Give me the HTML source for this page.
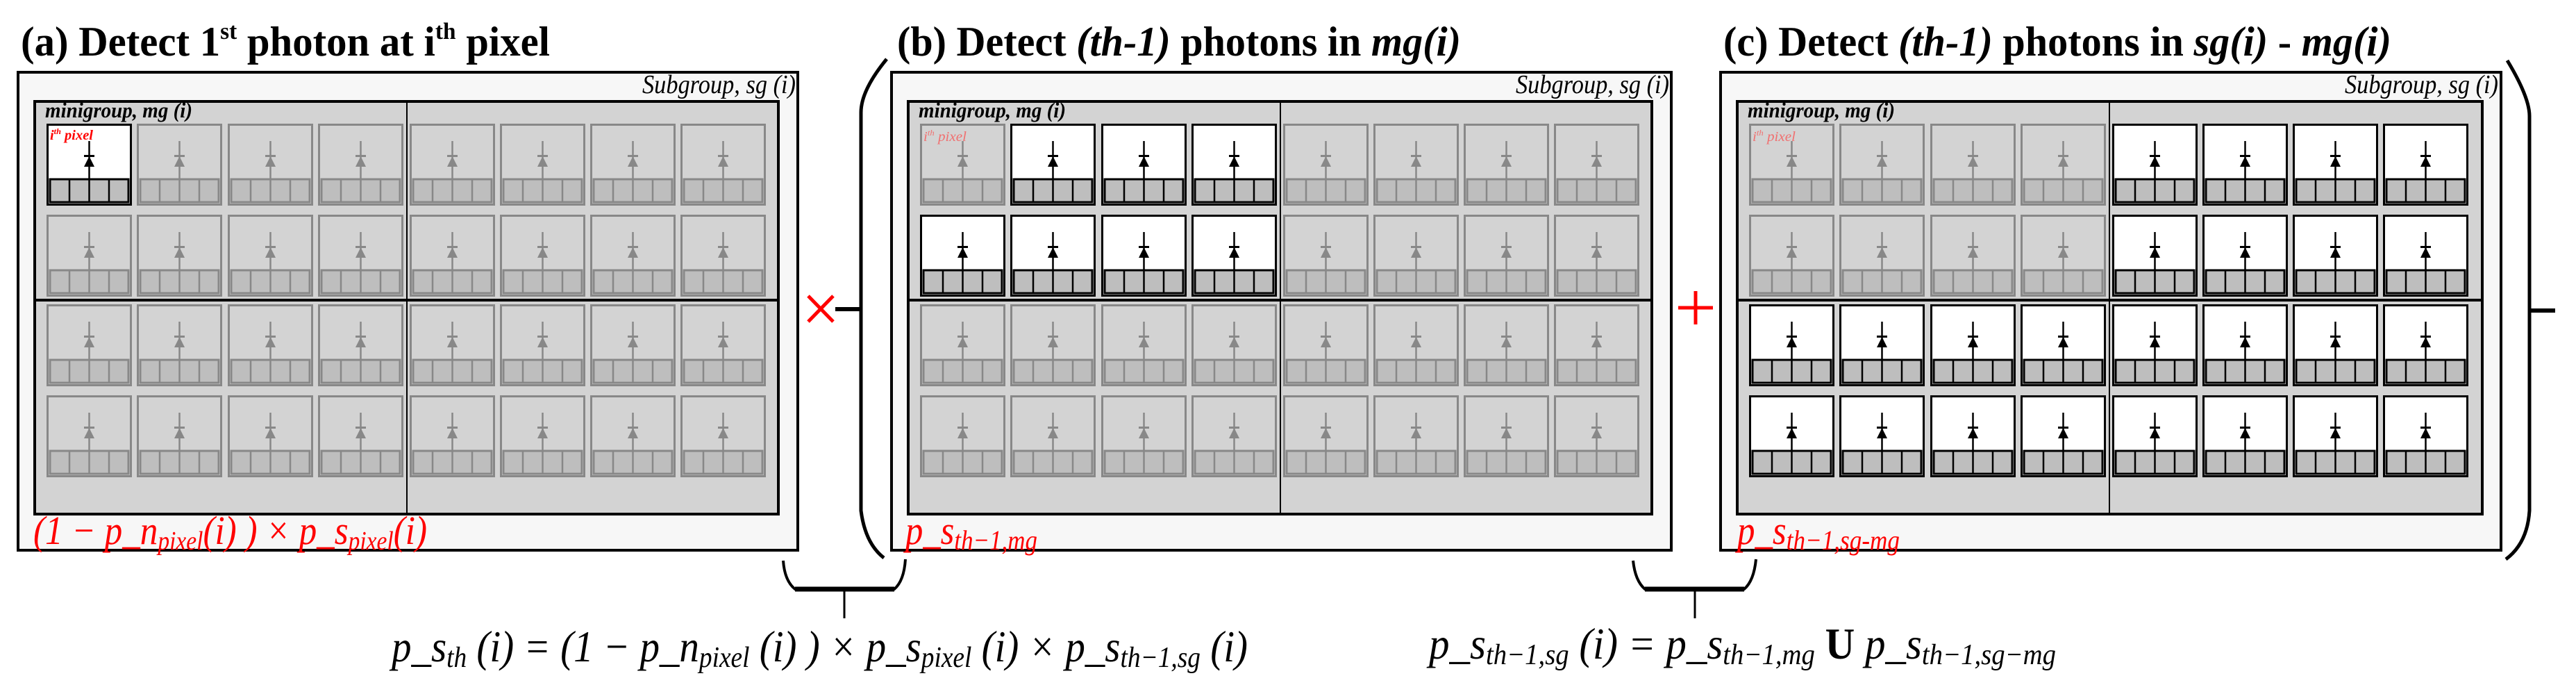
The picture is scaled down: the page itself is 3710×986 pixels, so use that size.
<!DOCTYPE html>
<html><head><meta charset="utf-8"><style>
html,body{margin:0;padding:0;background:#fff;}
svg{display:block;}
text{font-family:"Liberation Serif","Times New Roman",serif;}
</style></head><body>
<svg width="3710" height="986" viewBox="0 0 3710 986" xmlns="http://www.w3.org/2000/svg">
<defs>
<g id="off">
<rect x="1.5" y="1.5" width="120" height="115" fill="#d3d3d3" stroke="#888" stroke-width="3"/>
<line x1="61.5" y1="25" x2="61.5" y2="79" stroke="#888" stroke-width="2.5"/>
<rect x="54" y="45" width="15" height="3" fill="#888"/>
<polygon points="54,62 69,62 61.5,47" fill="#888"/>
<rect x="5" y="80" width="113" height="33" fill="#bebebe" stroke="#888" stroke-width="3"/>
<line x1="33" y1="80" x2="33" y2="113" stroke="#888" stroke-width="2.5"/>
<line x1="61.5" y1="80" x2="61.5" y2="113" stroke="#888" stroke-width="2.5"/>
<line x1="90" y1="80" x2="90" y2="113" stroke="#888" stroke-width="2.5"/>
</g>
<g id="on">
<rect x="1.5" y="1.5" width="120" height="115" fill="#fff" stroke="#000" stroke-width="3"/>
<line x1="61.5" y1="25" x2="61.5" y2="79" stroke="#000" stroke-width="2.5"/>
<rect x="54" y="45" width="15" height="3" fill="#000"/>
<polygon points="54,62 69,62 61.5,47" fill="#000"/>
<rect x="5" y="80" width="113" height="33" fill="#bebebe" stroke="#000" stroke-width="3"/>
<line x1="33" y1="80" x2="33" y2="113" stroke="#000" stroke-width="2.5"/>
<line x1="61.5" y1="80" x2="61.5" y2="113" stroke="#000" stroke-width="2.5"/>
<line x1="90" y1="80" x2="90" y2="113" stroke="#000" stroke-width="2.5"/>
</g>
<g id="rowoff">
<use href="#off" x="17"/><use href="#off" x="147"/><use href="#off" x="278"/><use href="#off" x="408"/>
<use href="#off" x="540"/><use href="#off" x="670"/><use href="#off" x="800"/><use href="#off" x="930"/>
</g>
<g id="rowon">
<use href="#on" x="17"/><use href="#on" x="147"/><use href="#on" x="278"/><use href="#on" x="408"/>
<use href="#on" x="540"/><use href="#on" x="670"/><use href="#on" x="800"/><use href="#on" x="930"/>
</g>
</defs>

<!-- Titles -->
<text x="30" y="80" font-size="60" font-weight="bold" textLength="762" lengthAdjust="spacingAndGlyphs">(a) Detect 1<tspan font-size="34" dy="-24">st</tspan><tspan dy="24"> photon at i</tspan><tspan font-size="34" dy="-24">th</tspan><tspan dy="24"> pixel</tspan></text>
<text x="1292" y="80" font-size="60" font-weight="bold" textLength="812" lengthAdjust="spacingAndGlyphs">(b) Detect <tspan font-style="italic">(th-1)</tspan> photons in <tspan font-style="italic">mg(i)</tspan></text>
<text x="2482" y="80" font-size="60" font-weight="bold" textLength="962" lengthAdjust="spacingAndGlyphs">(c) Detect <tspan font-style="italic">(th-1)</tspan> photons in <tspan font-style="italic">sg(i)</tspan> - <tspan font-style="italic">mg(i)</tspan></text>

<!-- Panel A -->
<rect x="26" y="104" width="1123" height="688" fill="#f7f7f7" stroke="#000" stroke-width="4"/>
<text x="1146" y="134" font-size="38" font-style="italic" text-anchor="end" textLength="221" lengthAdjust="spacingAndGlyphs">Subgroup, sg (i)</text>
<g transform="translate(50,0)">
<rect x="0" y="146" width="1071" height="594" fill="#d3d3d3" stroke="#000" stroke-width="4"/>
<line x1="536" y1="146" x2="536" y2="740" stroke="#000" stroke-width="2"/>
<line x1="0" y1="432" x2="1071" y2="432" stroke="#000" stroke-width="4"/>
<text x="15" y="169" font-size="31" font-weight="bold" font-style="italic" textLength="212" lengthAdjust="spacingAndGlyphs">minigroup, mg (i)</text>
<use href="#rowoff" y="178"/><use href="#rowoff" y="309"/><use href="#rowoff" y="438"/><use href="#rowoff" y="569"/>
<use href="#on" x="17" y="178"/>
<text x="22" y="201" font-size="20" font-weight="bold" font-style="italic" fill="#f00" textLength="62" lengthAdjust="spacingAndGlyphs">i<tspan font-size="12" dy="-8">th</tspan><tspan dy="8"> pixel</tspan></text>
</g>
<text x="48" y="783" font-size="58" font-style="italic" fill="#f00" textLength="567" lengthAdjust="spacingAndGlyphs">(1 − p_n<tspan font-size="38" dy="8">pixel</tspan><tspan dy="-8">(i) ) × p_s</tspan><tspan font-size="38" dy="8">pixel</tspan><tspan dy="-8">(i)</tspan></text>

<!-- Panel B -->
<rect x="1284" y="104" width="1123" height="688" fill="#f7f7f7" stroke="#000" stroke-width="4"/>
<text x="2404" y="134" font-size="38" font-style="italic" text-anchor="end" textLength="221" lengthAdjust="spacingAndGlyphs">Subgroup, sg (i)</text>
<g transform="translate(1308,0)">
<rect x="0" y="146" width="1071" height="594" fill="#d3d3d3" stroke="#000" stroke-width="4"/>
<line x1="536" y1="146" x2="536" y2="740" stroke="#000" stroke-width="2"/>
<line x1="0" y1="432" x2="1071" y2="432" stroke="#000" stroke-width="4"/>
<text x="15" y="169" font-size="31" font-weight="bold" font-style="italic" textLength="212" lengthAdjust="spacingAndGlyphs">minigroup, mg (i)</text>
<use href="#rowoff" y="178"/><use href="#rowoff" y="309"/><use href="#rowoff" y="438"/><use href="#rowoff" y="569"/>
<use href="#on" x="147" y="178"/><use href="#on" x="278" y="178"/><use href="#on" x="408" y="178"/>
<use href="#on" x="17" y="309"/><use href="#on" x="147" y="309"/><use href="#on" x="278" y="309"/><use href="#on" x="408" y="309"/>
<text x="22" y="203" font-size="20" font-style="italic" fill="#f07070" textLength="62" lengthAdjust="spacingAndGlyphs">i<tspan font-size="12" dy="-8">th</tspan><tspan dy="8"> pixel</tspan></text>
</g>
<text x="1304" y="783" font-size="58" font-style="italic" fill="#f00" textLength="190" lengthAdjust="spacingAndGlyphs">p_s<tspan font-size="40" dy="8">th−1,mg</tspan></text>

<!-- Panel C -->
<rect x="2478" y="104" width="1124" height="688" fill="#f7f7f7" stroke="#000" stroke-width="4"/>
<text x="3598" y="134" font-size="38" font-style="italic" text-anchor="end" textLength="221" lengthAdjust="spacingAndGlyphs">Subgroup, sg (i)</text>
<g transform="translate(2502,0)">
<rect x="0" y="146" width="1073" height="594" fill="#d3d3d3" stroke="#000" stroke-width="4"/>
<line x1="536" y1="146" x2="536" y2="740" stroke="#000" stroke-width="2"/>
<line x1="0" y1="432" x2="1073" y2="432" stroke="#000" stroke-width="4"/>
<text x="15" y="169" font-size="31" font-weight="bold" font-style="italic" textLength="212" lengthAdjust="spacingAndGlyphs">minigroup, mg (i)</text>
<use href="#rowoff" y="178"/><use href="#rowoff" y="309"/><use href="#rowon" y="438"/><use href="#rowon" y="569"/>
<use href="#on" x="540" y="178"/><use href="#on" x="670" y="178"/><use href="#on" x="800" y="178"/><use href="#on" x="930" y="178"/>
<use href="#on" x="540" y="309"/><use href="#on" x="670" y="309"/><use href="#on" x="800" y="309"/><use href="#on" x="930" y="309"/>
<text x="22" y="203" font-size="20" font-style="italic" fill="#f07070" textLength="62" lengthAdjust="spacingAndGlyphs">i<tspan font-size="12" dy="-8">th</tspan><tspan dy="8"> pixel</tspan></text>
</g>
<text x="2502" y="783" font-size="58" font-style="italic" fill="#f00" textLength="234" lengthAdjust="spacingAndGlyphs">p_s<tspan font-size="40" dy="8">th−1,sg-mg</tspan></text>

<!-- Operators -->
<g stroke="#f00" stroke-width="5" fill="none">
<line x1="1164" y1="426" x2="1200" y2="463"/><line x1="1200" y1="426" x2="1164" y2="463"/>
<line x1="2442" y1="419" x2="2442" y2="467"/><line x1="2417" y1="443" x2="2467" y2="443"/>
</g>
<line x1="1203" y1="445" x2="1240" y2="445" stroke="#000" stroke-width="6"/>
<line x1="3643" y1="447" x2="3680" y2="447" stroke="#000" stroke-width="6"/>

<!-- Big parentheses -->
<path d="M1277,85 Q1240,130 1240,162 L1240,735 Q1246,782 1273,803" fill="none" stroke="#000" stroke-width="5"/>
<path d="M3611,87 Q3643,140 3643,167 L3643,735 Q3640,782 3609,805" fill="none" stroke="#000" stroke-width="5"/>

<!-- Braces -->
<path d="M1128,807 Q1130,836 1145,848 L1288,848 Q1302,836 1304,805" fill="none" stroke="#000" stroke-width="4"/>
<line x1="1145" y1="848" x2="1288" y2="848" stroke="#000" stroke-width="7"/>
<line x1="1216" y1="848" x2="1216" y2="890" stroke="#000" stroke-width="3"/>
<path d="M2352,807 Q2355,836 2369,848 L2512,848 Q2526,836 2529,805" fill="none" stroke="#000" stroke-width="4"/>
<line x1="2369" y1="848" x2="2512" y2="848" stroke="#000" stroke-width="7"/>
<line x1="2441" y1="848" x2="2441" y2="890" stroke="#000" stroke-width="3"/>

<!-- Bottom formulas -->
<text x="564" y="952" font-size="64" font-style="italic" textLength="1233" lengthAdjust="spacingAndGlyphs">p_s<tspan font-size="42" dy="8">th</tspan><tspan dy="-8"> (i) = (1 − p_n</tspan><tspan font-size="42" dy="8">pixel</tspan><tspan dy="-8"> (i) ) × p_s</tspan><tspan font-size="42" dy="8">pixel</tspan><tspan dy="-8"> (i) × p_s</tspan><tspan font-size="42" dy="8">th−1,sg</tspan><tspan dy="-8"> (i)</tspan></text>
<text x="2058" y="948" font-size="64" font-style="italic" textLength="903" lengthAdjust="spacingAndGlyphs">p_s<tspan font-size="42" dy="8">th−1,sg</tspan><tspan dy="-8"> (i) = p_s</tspan><tspan font-size="42" dy="8">th−1,mg</tspan><tspan dy="-8" font-style="normal" font-weight="bold">  U  </tspan><tspan>p_s</tspan><tspan font-size="42" dy="8">th−1,sg−mg</tspan></text>
</svg>
</body></html>
